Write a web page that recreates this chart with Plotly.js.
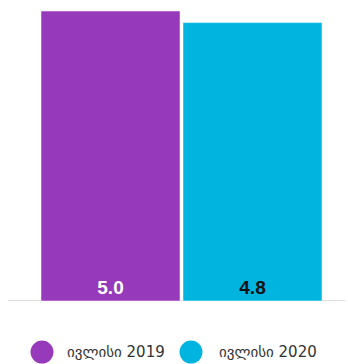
<!DOCTYPE html>
<html><head><meta charset="utf-8">
<script src="https://cdn.plot.ly/plotly-3.0.1.min.js"></script>
<style>html,body{margin:0;padding:0;background:#fff}#c{width:348px;height:364px}</style>
</head><body><div id="c"></div>
<script>
const category = ["ივლისი"];
const seriesNames = ["ივლისი 2019", "ივლისი 2020"];
const values2019 = [5.0];
const values2020 = [4.8];
const labels2019 = ["5.0"];
const labels2020 = ["4.8"];
const colors = ["#9639bb", "#00b4e0"];

const traces = [
  {type:"bar", name:seriesNames[0], x:category, y:values2019, text:labels2019,
   textposition:"inside", insidetextanchor:"start", textangle:0,
   textfont:{family:"Liberation Sans, Arial, sans-serif", size:19, color:"#ffffff", weight:"bold"},
   marker:{color:colors[0], line:{color:"rgba(255,255,255,0.5)", width:1}}, showlegend:false, hoverinfo:"skip"},
  {type:"bar", name:seriesNames[1], x:category, y:values2020, text:labels2020,
   textposition:"inside", insidetextanchor:"start", textangle:0,
   textfont:{family:"Liberation Sans, Arial, sans-serif", size:19, color:"#111111", weight:"bold"},
   marker:{color:colors[1], line:{color:"rgba(255,255,255,0.5)", width:1}}, showlegend:false, hoverinfo:"skip"}
];

const legX = [0.0654, 0.5296];
const legTX = [0.1371, 0.6106];
const legY = -0.176;
const shapes = [
  {type:"line", xref:"paper", yref:"y", x0:-0.0405, x1:1.0093, y0:0, y1:0,
   line:{color:"#dddddd", width:2}, layer:"below"}
];
const annotations = [];
for (let i=0;i<2;i++){
  shapes.push({type:"circle", xref:"paper", yref:"paper", xsizemode:"pixel", ysizemode:"pixel",
    xanchor:legX[i], yanchor:legY, x0:-11.5, x1:11.5, y0:-11.5, y1:11.5,
    fillcolor:colors[i], line:{width:0}});
  annotations.push({xref:"paper", yref:"paper", x:legTX[i], y:legY, xanchor:"left", yanchor:"middle",
    text:seriesNames[i], showarrow:false,
    font:{family:"DejaVu Sans, Noto Sans, sans-serif", size:15, color:"#333333"}});
}

const layout = {
  width:348, height:364,
  margin:{l:21, r:6, t:11, b:63},
  paper_bgcolor:"#ffffff", plot_bgcolor:"#ffffff",
  barmode:"group", bargap:0.1153, bargroupgap:0.0211,
  showlegend:false,
  xaxis:{showticklabels:false, ticks:"", showgrid:false, zeroline:false,
         showline:false, fixedrange:true},
  yaxis:{range:[0,5], showticklabels:false, ticks:"", showgrid:false, zeroline:false,
         showline:false, fixedrange:true},
  shapes:shapes, annotations:annotations
};
Plotly.newPlot("c", traces, layout, {displayModeBar:false, staticPlot:true});
</script></body></html>
